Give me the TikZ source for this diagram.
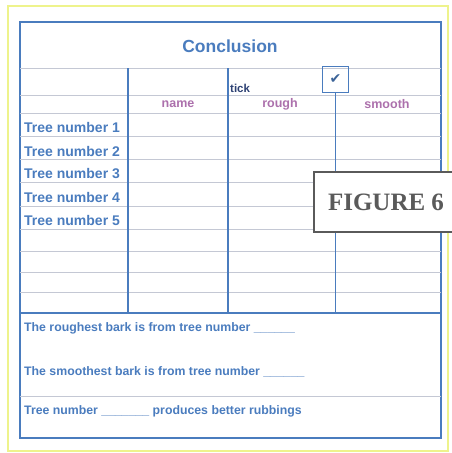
\documentclass[tikz,border=0pt]{standalone}
\usepackage{fontspec}
\setmainfont{Liberation Sans}
\newfontfamily\figfont{Liberation Serif}
\newfontfamily\symfont{DejaVu Sans}
\definecolor{tblue}{RGB}{74,124,190}
\definecolor{tgrey}{RGB}{196,200,212}
\definecolor{tpink}{RGB}{172,112,172}
\definecolor{tnavy}{RGB}{45,65,115}
\definecolor{tyellow}{RGB}{238,243,140}
\definecolor{figgrey}{RGB}{90,90,90}

\begin{document}
\begin{tikzpicture}[x=1pt,y=-1pt,
	bluerule/.style={tblue,line width=1.6pt},
	greyrule/.style={tgrey,line width=0.9pt},
	rowlabel/.style={anchor=west,inner sep=0pt,text=tblue,font=\bfseries\fontsize{14}{14}\selectfont},
	headlabel/.style={inner sep=0pt,text=tpink,font=\bfseries\fontsize{12.5}{12.5}\selectfont},
	notelabel/.style={anchor=west,inner sep=0pt,text=tblue,font=\bfseries\fontsize{12.3}{12.3}\selectfont}]
	
	% page size
	\useasboundingbox (0,0) rectangle (451,453);
	
	% table parameters
	\def\lx{20} % left edge
	\def\rx{441} % right edge
	
	% outer frame and table frame
	\draw[tyellow,line width=2pt] (8,6) rectangle (448,451);
	\draw[bluerule] (\lx,22) rectangle (\rx,438);
	
	% title
	\node[text=tblue,font=\bfseries\fontsize{17.5}{17.5}\selectfont] (title) at (230,46) {Conclusion};
	
	% rows
	\foreach \y in {68,95,113,136,159,182,206,229,251,272,292,396}
	\draw[greyrule] (\lx,\y) -- (\rx,\y);
	\draw[bluerule] (\lx,313) -- (\rx,313);
	
	% tick box
	\node[draw=tblue,line width=1.6pt,minimum size=26pt,inner sep=0pt,text=tblue!80!black,font=\symfont\fontsize{14}{14}\selectfont] (tickbox) at (335.5,79.5) {✔};
	
	% columns
	\draw[bluerule] (128,68) -- (128,313);
	\draw[bluerule] (228,68) -- (228,313);
	\draw[bluerule] (tickbox.south) -- (tickbox.south |- 0,313);
	
	% header
	\node[anchor=west,inner sep=0pt,text=tnavy,font=\bfseries\fontsize{11.5}{11.5}\selectfont] (tick) at (230,88) {tick};
	\node[headlabel] (name) at (178,104) {name};
	\node[headlabel] (rough) at (280,104) {rough};
	\node[headlabel] (smooth) at (387,104) {smooth};
	
	% tree rows
	\node[rowlabel] (tree1) at (24,127) {Tree number 1};
	\node[rowlabel] (tree2) at (24,151) {Tree number 2};
	\node[rowlabel] (tree3) at (24,174) {Tree number 3};
	\node[rowlabel] (tree4) at (24,197) {Tree number 4};
	\node[rowlabel] (tree5) at (24,220) {Tree number 5};
	
	% conclusions
	\node[notelabel] (roughest) at (24,328) {The roughest bark is from tree number \_\_\_\_\_\_};
	\node[notelabel] (smoothest) at (24,372) {The smoothest bark is from tree number \_\_\_\_\_\_};
	\node[notelabel] (rubbings) at (24,411) {Tree number \_\_\_\_\_\_\_ produces better rubbings};
	
	% figure label
	\node[draw=figgrey,line width=2pt,fill=white,anchor=north west,minimum height=60pt,inner xsep=14pt,text=figgrey,font=\figfont\bfseries\fontsize{25}{25}\selectfont] (figlabel) at (313,171) {FIGURE 6};
	
\end{tikzpicture}
\end{document}
